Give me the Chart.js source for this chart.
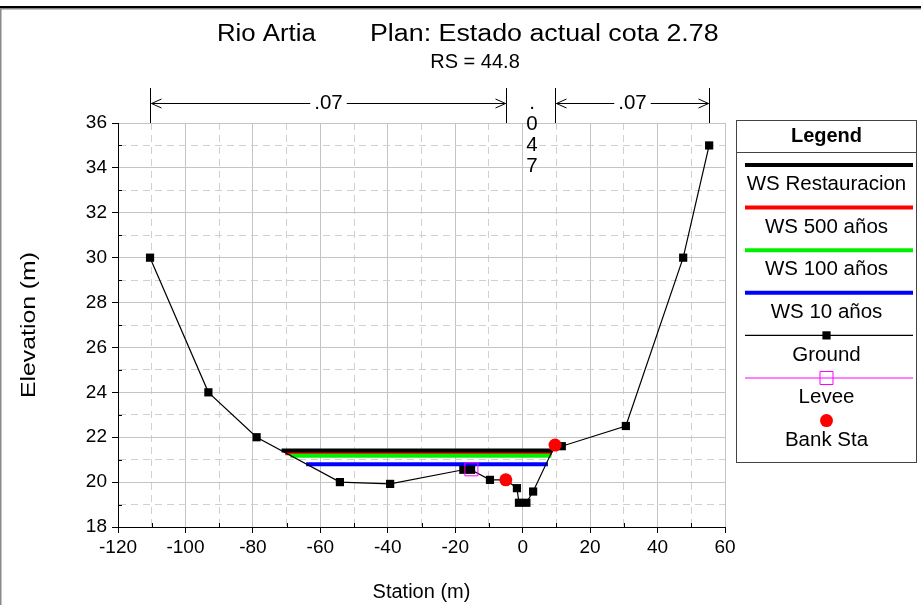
<!DOCTYPE html>
<html>
<head>
<meta charset="utf-8">
<title>Rio Artia - RS 44.8</title>
<script src="https://cdn.jsdelivr.net/npm/chart.js@4.4.0/dist/chart.umd.min.js"></script>
<style>
  html, body { margin: 0; padding: 0; background: #fff; }
  #wrap { width: 921px; height: 605px; }
</style>
</head>
<body>
<div id="wrap"><canvas id="xsChart" width="921" height="605"></canvas></div>
<script>
// Cross section ground (station m, elevation m)
const groundStation = [-110.5, -93.2, -78.9, -54.2, -39.3, -17.6, -15.3, -9.7, -5.0, -1.7, -1.1, 1.1, 3.1, 9.6, 11.6, 30.6, 47.6, 55.3];
const groundElev    = [30.0, 24.0, 22.0, 20.0, 19.92, 20.55, 20.55, 20.1, 20.1, 19.73, 19.08, 19.08, 19.58, 21.65, 21.6, 22.5, 30.0, 35.0];

// Water surfaces
const wsLabels = ['WS Restauracion', 'WS 500 años', 'WS 100 años', 'WS 10 años'];
const wsColors = ['#000000', '#ff0000', '#00f000', '#0000ff'];
const wsElev   = [21.41, 21.29, 21.17, 20.80];
const wsLeft   = [-71.5, -70.4, -68.9, -64.2];
const wsRight  = [9.0, 8.7, 8.5, 7.5];

const leveeStation = [-15.2];
const leveeElev    = [20.57];

const bankStation = [-5.0, 9.6];
const bankElev    = [20.1, 21.65];

// Manning's n regions along the top
const nBreaks = [-110.5, -5.0, 9.6, 55.3];
const nValues = ['.07', '.047', '.07'];

const xTickLabels = [-120, -100, -80, -60, -40, -20, 0, 20, 40, 60];
const yTickLabels = [18, 20, 22, 24, 26, 28, 30, 32, 34, 36];

const chartTitle = 'Rio Artia';
const planTitle = 'Plan: Estado actual cota 2.78';
const rsLabel = 'RS = 44.8';
const yTitle = 'Elevation (m)';

const FONT = '"Liberation Sans", Arial, sans-serif';

function toPoints(xs, ys) {
  return xs.map((x, i) => ({ x: x, y: ys[i] }));
}

const datasets = [];
const wsOrder = [3, 5, 4, 6];
wsLabels.forEach((label, i) => {
  datasets.push({
    label: label,
    data: [{ x: wsLeft[i], y: wsElev[i] }, { x: wsRight[i], y: wsElev[i] }],
    showLine: true,
    borderColor: wsColors[i],
    backgroundColor: wsColors[i],
    borderWidth: 4,
    borderCapStyle: 'butt',
    pointRadius: 0,
    legendSample: 'line',
    order: wsOrder[i]
  });
});
datasets.push({
  label: 'Ground',
  data: toPoints(groundStation, groundElev),
  showLine: true,
  borderColor: '#000',
  borderWidth: 1.2,
  pointStyle: 'rect',
  pointRadius: 5.8,
  pointBackgroundColor: '#000',
  pointBorderWidth: 0,
  legendSample: 'linePoint',
  order: 2
});
datasets.push({
  label: 'Levee',
  data: toPoints(leveeStation, leveeElev),
  showLine: false,
  borderColor: '#ff00ff',
  pointStyle: 'rect',
  pointRadius: 9.2,
  pointBackgroundColor: 'rgba(0,0,0,0)',
  pointBorderColor: '#ff00ff',
  pointBorderWidth: 1,
  legendSample: 'linePoint',
  order: 1
});
datasets.push({
  label: 'Bank Sta',
  data: toPoints(bankStation, bankElev),
  showLine: false,
  borderColor: '#ff0000',
  pointStyle: 'circle',
  pointRadius: 6.5,
  pointBackgroundColor: '#ff0000',
  pointBorderWidth: 0,
  legendSample: 'point',
  order: 0
});

const isMajorX = v => v % 20 === 0;
const isMajorY = v => v % 2 === 0;

// draw text stretched along its own direction (the reference uses wide glyphs)
function stretchedText(ctx, text, x, y, sx, rot) {
  ctx.save();
  ctx.translate(x, y);
  if (rot) ctx.rotate(rot);
  ctx.scale(sx, 1);
  ctx.fillText(text, 0, 0);
  ctx.restore();
}

// white page, frame, minor ticks, titles, n values and the boxed legend
const decorations = {
  id: 'decorations',
  beforeDraw(chart) {
    const ctx = chart.ctx;
    ctx.save();
    ctx.fillStyle = '#fff';
    ctx.fillRect(0, 0, chart.width, chart.height);
    ctx.fillStyle = '#000';
    ctx.fillRect(0, 6, chart.width, 2.5);
    ctx.fillStyle = '#8a8a8a';
    ctx.fillRect(0, 8.5, chart.width, 1);
    ctx.fillRect(0, 8, 1.5, chart.height);
    ctx.restore();
  },
  afterDraw(chart) {
    const ctx = chart.ctx;
    const area = chart.chartArea;
    const xs = chart.scales.x;
    const ys = chart.scales.y;
    ctx.save();

    // inner minor ticks
    ctx.strokeStyle = '#000';
    ctx.lineWidth = 1;
    ctx.beginPath();
    xs.ticks.forEach(t => {
      if (!isMajorX(t.value)) {
        const px = Math.round(xs.getPixelForValue(t.value)) + 0.5;
        ctx.moveTo(px, area.bottom);
        ctx.lineTo(px, area.bottom - 4);
      }
    });
    ys.ticks.forEach(t => {
      if (!isMajorY(t.value)) {
        const py = Math.round(ys.getPixelForValue(t.value)) + 0.5;
        ctx.moveTo(area.left, py);
        ctx.lineTo(area.left + 4, py);
      }
    });
    ctx.stroke();

    // titles
    ctx.fillStyle = '#000';
    ctx.textBaseline = 'alphabetic';
    ctx.textAlign = 'left';
    ctx.font = '23px ' + FONT;
    stretchedText(ctx, chartTitle, 217, 41, 1.12);
    stretchedText(ctx, planTitle, 370, 41, 1.165);
    ctx.font = '20px ' + FONT;
    ctx.textAlign = 'center';
    ctx.fillText(rsLabel, 475, 68);

    // y axis title
    ctx.font = '21px ' + FONT;
    ctx.textAlign = 'center';
    ctx.textBaseline = 'middle';
    stretchedText(ctx, yTitle, 29, (area.top + area.bottom) / 2, 1.18, -Math.PI / 2);

    // Manning's n
    const topY = 88;
    const arrowY = 103.5;
    ctx.strokeStyle = '#000';
    ctx.lineWidth = 1;
    ctx.beginPath();
    nBreaks.forEach(b => {
      const px = Math.round(xs.getPixelForValue(b)) + 0.5;
      ctx.moveTo(px, topY);
      ctx.lineTo(px, area.top);
    });
    ctx.stroke();
    ctx.font = '20.5px ' + FONT;
    nValues.forEach((label, i) => {
      const l = Math.round(xs.getPixelForValue(nBreaks[i])) + 0.5;
      const r = Math.round(xs.getPixelForValue(nBreaks[i + 1])) + 0.5;
      const c = (l + r) / 2;
      const w = ctx.measureText(label).width;
      ctx.textAlign = 'center';
      ctx.textBaseline = 'middle';
      if (w + 40 > r - l) {
        label.split('').forEach((ch, k) => {
          ctx.fillText(ch, c + 1, 103 + k * 21);
        });
        return;
      }
      ctx.fillText(label, c, arrowY);
      ctx.beginPath();
      ctx.moveTo(l + 1, arrowY);
      ctx.lineTo(c - w / 2 - 4, arrowY);
      ctx.moveTo(c + w / 2 + 4, arrowY);
      ctx.lineTo(r - 1, arrowY);
      ctx.moveTo(l + 11, arrowY - 4.5);
      ctx.lineTo(l + 1, arrowY);
      ctx.lineTo(l + 11, arrowY + 4.5);
      ctx.moveTo(r - 11, arrowY - 4.5);
      ctx.lineTo(r - 1, arrowY);
      ctx.lineTo(r - 11, arrowY + 4.5);
      ctx.stroke();
    });

    // legend box
    const bx = 736.5, by = 120.5, bw = 180, bh = 342;
    const cx = bx + bw / 2;
    ctx.strokeStyle = '#444';
    ctx.lineWidth = 1;
    ctx.strokeRect(bx, by, bw, bh);
    ctx.beginPath();
    ctx.moveTo(bx, 152.5);
    ctx.lineTo(bx + bw, 152.5);
    ctx.stroke();
    ctx.fillStyle = '#000';
    ctx.textAlign = 'center';
    ctx.textBaseline = 'middle';
    ctx.font = 'bold 20px ' + FONT;
    ctx.fillText('Legend', cx, 136);

    ctx.font = '20.5px ' + FONT;
    chart.data.datasets.forEach((ds, i) => {
      const sy = 165 + i * 42.6;
      if (ds.legendSample === 'line') {
        ctx.strokeStyle = ds.borderColor;
        ctx.lineWidth = ds.borderWidth;
        ctx.beginPath();
        ctx.moveTo(745, sy);
        ctx.lineTo(913, sy);
        ctx.stroke();
      } else {
        if (ds.legendSample === 'linePoint') {
          ctx.strokeStyle = ds.borderColor;
          ctx.lineWidth = 1.2;
          ctx.beginPath();
          ctx.moveTo(745, sy);
          ctx.lineTo(913, sy);
          ctx.stroke();
        }
        ctx.fillStyle = ds.pointBackgroundColor;
        ctx.strokeStyle = ds.pointBorderColor || ds.borderColor;
        ctx.lineWidth = ds.pointBorderWidth;
        Chart.helpers.drawPoint(ctx, {
          pointStyle: ds.pointStyle,
          radius: ds.pointRadius,
          rotation: 0,
          borderWidth: ds.pointBorderWidth
        }, cx, sy);
      }
      ctx.fillStyle = '#000';
      ctx.fillText(ds.label, cx, sy + 19.5);
    });
    ctx.restore();
  }
};

const tickFont = { family: FONT, size: 19 };

new Chart(document.getElementById('xsChart').getContext('2d'), {
  type: 'scatter',
  data: { datasets: datasets },
  plugins: [decorations],
  options: {
    responsive: false,
    animation: false,
    layout: { padding: { left: 0, top: 123, right: 196, bottom: 0 } },
    plugins: {
      legend: { display: false },
      tooltip: { enabled: false },
      title: { display: false }
    },
    scales: {
      x: {
        type: 'linear',
        position: 'bottom',
        min: -120,
        max: 60,
        ticks: {
          stepSize: 10,
          autoSkip: false,
          maxRotation: 0,
          padding: 3,
          color: '#000',
          font: tickFont,
          callback: v => xTickLabels.includes(v) ? String(v) : ''
        },
        grid: {
          color: ctx => (ctx.tick && isMajorX(ctx.tick.value)) ? '#c4c4c4' : '#d0d0d0',
          lineWidth: 1,
          tickLength: 6,
          tickColor: ctx => (ctx.tick && isMajorX(ctx.tick.value)) ? '#000' : 'rgba(0,0,0,0)'
        },
        border: {
          display: true,
          color: '#000',
          width: 1,
          dash: ctx => (ctx.tick && !isMajorX(ctx.tick.value)) ? [7, 5] : []
        },
        title: {
          display: true,
          text: 'Station (m)',
          color: '#000',
          font: { family: FONT, size: 20 },
          padding: { top: 0, bottom: 1 }
        },
        afterFit: s => { s.height = 78; }
      },
      y: {
        type: 'linear',
        min: 18,
        max: 36,
        ticks: {
          stepSize: 1,
          autoSkip: false,
          padding: 5,
          color: '#000',
          font: tickFont,
          callback: v => yTickLabels.includes(v) ? String(v) : ''
        },
        grid: {
          color: ctx => (ctx.tick && isMajorY(ctx.tick.value)) ? '#c4c4c4' : '#d0d0d0',
          lineWidth: 1,
          tickLength: 6,
          tickColor: ctx => (ctx.tick && isMajorY(ctx.tick.value)) ? '#000' : 'rgba(0,0,0,0)'
        },
        border: {
          display: true,
          color: '#000',
          width: 1,
          dash: ctx => (ctx.tick && !isMajorY(ctx.tick.value)) ? [7, 5] : []
        },
        title: { display: false },
        afterFit: s => { s.width = 118; }
      }
    }
  }
});
</script>
</body>
</html>
